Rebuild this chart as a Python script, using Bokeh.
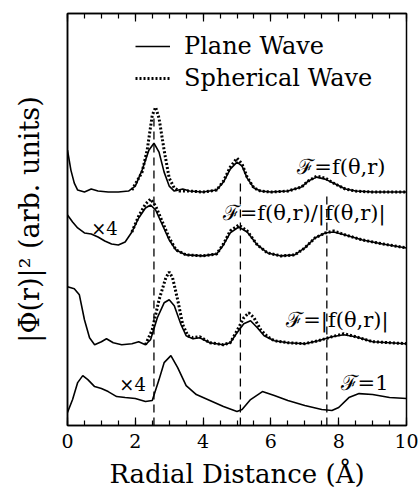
from bokeh.plotting import figure
from bokeh.models import LinearAxis, FixedTicker, Legend, LegendItem, Range1d, CustomJSTickFormatter
from bokeh.core.properties import value
from bokeh.embed import file_html
from bokeh.resources import INLINE

# ---- data (y in arbitrary units) ----
x_top = [0, 0.1, 0.2, 0.3, 0.5, 0.7, 0.9, 1.2, 1.5, 1.8, 2.0, 2.2, 2.4, 2.55, 2.7, 2.85, 3.0, 3.15, 3.4, 3.6,
         4.0, 4.4, 4.6, 4.8, 5.0, 5.15, 5.3, 5.5, 5.7, 6.0, 6.5, 6.9, 7.1, 7.35, 7.6, 7.9, 8.2, 8.5, 9.0, 10]
y_top_plane = [276, 256, 243, 236, 234, 237, 235, 234, 234, 235, 240, 256, 276, 283, 274, 254, 240, 235, 237, 235,
               234, 236, 244, 257, 264, 260, 248, 238, 235, 234, 235, 239, 245, 249, 247, 242, 237, 235, 234, 234]
x_top_sph = [1.9, 2.2, 2.35, 2.5, 2.6, 2.7, 2.85, 3.0, 3.15, 3.3, 3.6, 4.0, 4.4, 4.6, 4.8, 5.0, 5.15, 5.3, 5.5,
             5.7, 6.0, 6.5, 6.9, 7.1, 7.35, 7.6, 7.9, 8.2, 8.5, 9.0, 10]
y_top_sph = [236, 254, 276, 311, 319, 308, 276, 248, 238, 235, 235, 234, 236, 245, 259, 268, 262, 249, 238,
             235, 234, 235, 239, 245, 250, 248, 242, 237, 235, 234, 234]

x_mid = [0, 0.15, 0.3, 0.5, 0.7, 0.9, 1.1, 1.3, 1.5, 1.7, 1.9, 2.1, 2.3, 2.45, 2.6, 2.8, 3.0, 3.2, 3.5, 4.0,
         4.4, 4.6, 4.8, 5.05, 5.3, 5.6, 5.9, 6.3, 6.7, 7.0, 7.3, 7.6, 7.85, 8.2, 8.7, 9.3, 10]
y_mid_plane = [211, 204, 198, 193, 192, 189, 185, 182, 181, 184, 194, 208, 218, 221, 216, 201, 186, 176, 171, 170,
               172, 181, 193, 199, 194, 181, 173, 170, 171, 178, 188, 193, 194, 191, 186, 182, 178]
x_mid_sph = [1.9, 2.1, 2.3, 2.45, 2.6, 2.8, 3.0, 3.2, 3.5, 4.0, 4.4, 4.6, 4.8, 5.05, 5.3, 5.6, 5.9, 6.3, 6.7,
             7.0, 7.3, 7.6, 7.85, 8.2, 8.7, 9.3, 10]
y_mid_sph = [194, 210, 222, 227, 220, 204, 188, 176, 171, 170, 172, 182, 195, 201, 195, 181, 173, 170, 171,
             178, 188, 193, 195, 191, 186, 182, 178]

x_abs = [0, 0.2, 0.35, 0.5, 0.65, 0.8, 1.0, 1.15, 1.35, 1.6, 1.9, 2.1, 2.3, 2.45, 2.65, 2.85, 3.0, 3.15, 3.35,
         3.5, 3.7, 3.9, 4.2, 4.6, 4.8, 5.0, 5.2, 5.4, 5.6, 5.8, 6.1, 6.5, 7.0, 7.4, 7.8, 8.15, 8.5, 9.0, 10]
y_abs_plane = [139, 137, 131, 106, 88, 81, 84, 87, 83, 81, 82, 84, 81, 86, 108, 123, 126, 120, 101,
               90, 87, 88, 83, 81, 83, 93, 102, 105, 98, 90, 85, 83, 82, 85, 89, 91, 89, 84, 82]
x_abs_sph = [2.3, 2.5, 2.7, 2.9, 3.0, 3.1, 3.25, 3.4, 3.55, 3.7, 3.9, 4.2, 4.6, 4.8, 5.0, 5.2, 5.35, 5.5, 5.7,
             5.9, 6.1, 6.5, 7.0, 7.4, 7.8, 8.15, 8.5, 9.0, 10]
y_abs_sph = [81, 96, 126, 148, 154, 148, 126, 101, 90, 88, 89, 83, 81, 83, 95, 108, 113, 108, 96,
             89, 85, 83, 82, 85, 89, 92, 89, 84, 82]

x_one = [0, 0.15, 0.3, 0.45, 0.6, 0.8, 1.0, 1.2, 1.45, 1.7, 2.0, 2.3, 2.5, 2.7, 2.85, 3.05, 3.25, 3.5, 3.8,
         4.2, 4.6, 5.0, 5.15, 5.4, 5.75, 6.1, 6.5, 7.0, 7.5, 7.8, 8.0, 8.3, 8.6, 9.0, 9.5, 10]
y_one = [13, 26, 43, 50, 46, 39, 37, 34, 29, 28, 27, 24, 25, 46, 63, 70, 58, 40, 31,
         25, 19, 14, 16, 26, 34, 30, 25, 20, 16, 15, 18, 28, 32, 31, 28, 27]

dash_x = [2.55, 5.1, 7.65]
dash_top = [311, 246, 231]

x_ticks = [0, 2, 4, 6, 8, 10]

curve_labels = ["ℱ=f(θ,r)", "ℱ=f(θ,r)/|f(θ,r)|", "ℱ=|f(θ,r)|", "ℱ=1"]
curve_label_x = [9.38, 9.38, 9.47, 9.47]
curve_label_y = [259, 213, 106, 43]
x4_x = [1.09, 1.92]
x4_y = [197, 41]

x_title = "Radial Distance (Å)"
y_title = "|Φ(r)|² (arb. units)"

SERIF = "DejaVu Serif"

# ---- figure ----
p = figure(width=420, height=491, x_range=Range1d(0, 10), y_range=Range1d(0, 413),
           x_axis_type=None, y_axis_type=None, output_backend="svg", toolbar_location=None,
           min_border_left=67, min_border_right=14, min_border_top=13, min_border_bottom=65)
p.grid.visible = False
p.outline_line_color = "black"
p.outline_line_width = 1.5
p.background_fill_color = "white"
p.border_fill_color = "white"

minor = [0.5 * i for i in range(21)]


def style_x(ax):
    ax.major_tick_in = 8
    ax.major_tick_out = 0
    ax.minor_tick_in = 5
    ax.minor_tick_out = 0
    ax.axis_line_width = 1.5
    ax.axis_line_color = "black"
    ax.major_tick_line_width = 1.2
    ax.minor_tick_line_width = 1.2
    ax.major_tick_line_color = "black"
    ax.minor_tick_line_color = "black"


xb = LinearAxis(ticker=FixedTicker(ticks=x_ticks, minor_ticks=minor), axis_label=x_title)
style_x(xb)
xb.major_label_text_font = SERIF
xb.major_label_text_font_size = "19px"
xb.major_label_text_color = "black"
xb.major_label_standoff = 8
xb.axis_label_text_font = SERIF
xb.axis_label_text_font_style = "normal"
xb.axis_label_text_font_size = "26px"
xb.axis_label_text_color = "black"
xb.axis_label_standoff = 8
p.add_layout(xb, "below")

xt = LinearAxis(ticker=FixedTicker(ticks=x_ticks, minor_ticks=minor),
                formatter=CustomJSTickFormatter(code="return ''"))
style_x(xt)
xt.major_label_standoff = 0
p.add_layout(xt, "above")

yl = LinearAxis(ticker=FixedTicker(ticks=[]), axis_label=y_title)
yl.axis_line_width = 1.5
yl.axis_line_color = "black"
yl.major_tick_line_color = None
yl.minor_tick_line_color = None
yl.axis_label_text_font = SERIF
yl.axis_label_text_font_style = "normal"
yl.axis_label_text_font_size = "27px"
yl.axis_label_text_color = "black"
yl.axis_label_standoff = 23
p.add_layout(yl, "left")

# dashed markers
p.segment(x0=dash_x, y0=[0] * 3, x1=dash_x, y1=dash_top, line_color="black",
          line_width=1.3, line_dash="8 5")

lw = 1.6
r_plane = p.line(x_top, y_top_plane, line_color="black", line_width=lw)
r_sph = p.line(x_top_sph, y_top_sph, line_color="black", line_width=3, line_dash="2 2")
p.line(x_mid, y_mid_plane, line_color="black", line_width=lw)
p.line(x_mid_sph, y_mid_sph, line_color="black", line_width=3, line_dash="2 2")
p.line(x_abs, y_abs_plane, line_color="black", line_width=lw)
p.line(x_abs_sph, y_abs_sph, line_color="black", line_width=3, line_dash="2 2")
p.line(x_one, y_one, line_color="black", line_width=lw)

p.text(x=curve_label_x, y=curve_label_y, text=curve_labels, text_align="right",
       text_baseline="middle", text_font=value(SERIF), text_font_size="21px", text_color="black")
p.text(x=x4_x, y=x4_y, text=["×4", "×4"], text_align="center", text_baseline="middle",
       text_font=value(SERIF), text_font_size="18px", text_color="black")

legend = Legend(items=[LegendItem(label="Plane Wave", renderers=[r_plane]),
                       LegendItem(label="Spherical Wave", renderers=[r_sph])],
                location=(68, 331), orientation="vertical")
legend.border_line_color = None
legend.background_fill_alpha = 0
legend.padding = 0
legend.margin = 0
legend.spacing = 0
legend.glyph_width = 35
legend.glyph_height = 32
legend.label_height = 32
legend.label_standoff = 14
legend.label_text_font = SERIF
legend.label_text_font_size = "24px"
legend.label_text_color = "black"
p.add_layout(legend, "center")

open("out.html", "w").write(file_html(p, INLINE))
